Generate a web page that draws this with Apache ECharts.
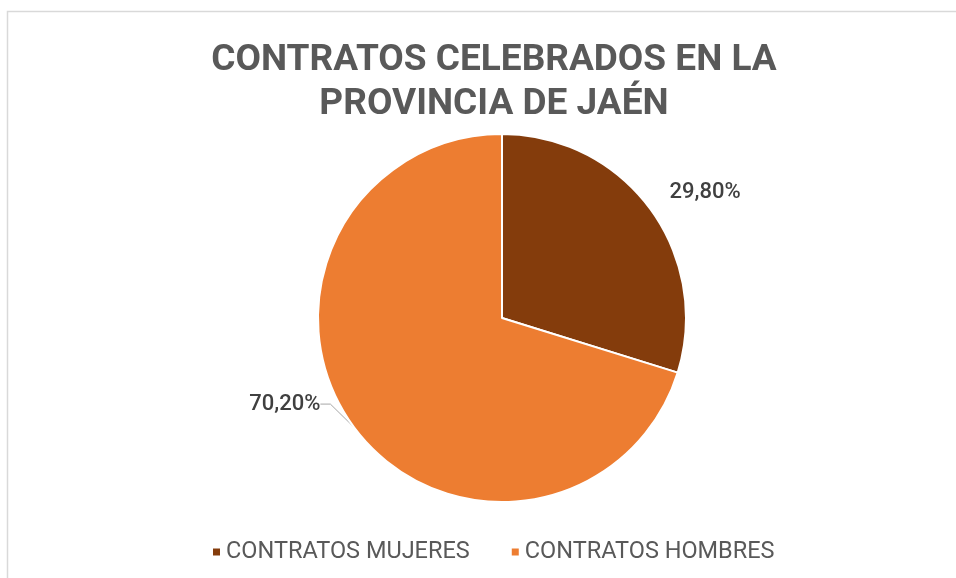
<!DOCTYPE html>
<html>
<head>
<meta charset="utf-8">
<script src="https://cdn.jsdelivr.net/npm/echarts@6/dist/echarts.min.js"></script>
<style>
  html, body { margin: 0; padding: 0; background: #fff; }
  #main { width: 956px; height: 578px; }
</style>
</head>
<body>
<div id="main"></div>
<script>
// datos
var categories = ['CONTRATOS MUJERES', 'CONTRATOS HOMBRES'];
var values = [29.8, 70.2];
var colors = ['#843C0C', '#ED7D31'];

var myChart = echarts.init(document.getElementById('main'));

var pieData = categories.map(function (name, i) {
  return { name: name, value: values[i], itemStyle: { color: colors[i] } };
});

// desplazamiento de cada etiqueta respecto al borde del sector
var labelOffsets = [[55, -16], [-69, -23]];

var option = {
  animation: false,
  graphic: [
    {
      type: 'rect',
      shape: { x: 7.5, y: 11.5, width: 1200, height: 1200 },
      style: { fill: 'none', stroke: '#d9d9d9', lineWidth: 1.5 },
      silent: true
    }
  ],
  title: {
    text: 'CONTRATOS CELEBRADOS EN LA\nPROVINCIA DE JAÉN',
    left: 489,
    textAlign: 'center',
    top: 34,
    textStyle: {
      fontFamily: 'Roboto',
      fontWeight: 'bold',
      fontSize: 37,
      lineHeight: 44,
      color: '#595959'
    }
  },
  legend: {
    left: 206,
    top: 535,
    icon: 'rect',
    itemWidth: 9,
    itemHeight: 9,
    itemGap: 40,
    textStyle: {
      fontFamily: 'Roboto',
      fontSize: 23.5,
      color: '#595959'
    },
    data: categories
  },
  series: [
    {
      type: 'pie',
      center: [502, 318],
      radius: 184,
      startAngle: 90,
      clockwise: true,
      itemStyle: { borderColor: '#fff', borderWidth: 2 },
      label: {
        show: true,
        position: 'outside',
        formatter: function (p) {
          return p.value.toFixed(2).replace('.', ',') + '%';
        },
        fontFamily: 'Roboto',
        fontWeight: 500,
        fontSize: 22,
        color: '#404040'
      },
      labelLine: {
        show: true,
        length: 10,
        length2: 10,
        lineStyle: { color: '#a6a6a6', width: 1 }
      },
      labelLayout: function (params) {
        var p = params.labelLinePoints ? params.labelLinePoints[0] : null;
        if (!p) return {};
        var off = labelOffsets[params.dataIndex];
        return {
          x: p[0] + off[0],
          y: p[1] + off[1],
          align: 'center',
          verticalAlign: 'middle'
        };
      },
      data: pieData
    }
  ]
};

// la etiqueta de mujeres no lleva línea
option.series[0].data[0].labelLine = { show: false };

myChart.setOption(option);
</script>
</body>
</html>
